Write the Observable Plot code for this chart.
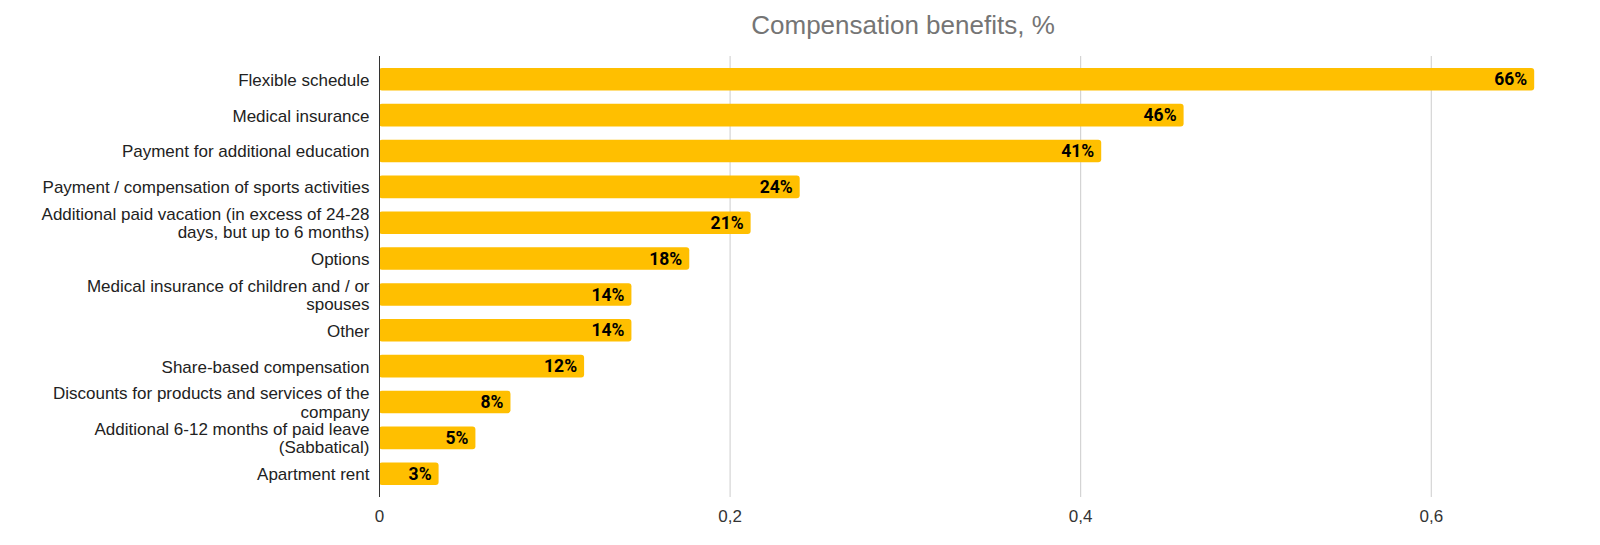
<!DOCTYPE html>
<html>
<head>
<meta charset="utf-8">
<script src="https://cdn.jsdelivr.net/npm/d3@7"></script>
<script src="https://cdn.jsdelivr.net/npm/@observablehq/plot@0.6"></script>
<style>
  html, body { margin: 0; padding: 0; background: #fff; }
  #wrap { position: relative; width: 1600px; height: 545px; }
  #title { position: absolute; top: 0; left: 903px; transform: translateX(-50%); white-space: nowrap;
    font-family: "Liberation Sans", Arial, sans-serif; font-size: 26px; color: #757575;
    line-height: 40px; padding-top: 5px; }
  #chart { position: absolute; top: 45px; left: 0; }
  #chart svg { display: block; }
</style>
</head>
<body>
<div id="wrap">
  <div id="title">Compensation benefits, %</div>
  <div id="chart"></div>
</div>
<script>
const categories = [
  "Flexible schedule",
  "Medical insurance",
  "Payment for additional education",
  "Payment / compensation of sports activities",
  "Additional paid vacation (in excess of 24-28 days, but up to 6 months)",
  "Options",
  "Medical insurance of children and / or spouses",
  "Other",
  "Share-based compensation",
  "Discounts for products and services of the company",
  "Additional 6-12 months of paid leave (Sabbatical)",
  "Apartment rent"
];
const categoryLabels = [
  "Flexible schedule",
  "Medical insurance",
  "Payment for additional education",
  "Payment / compensation of sports activities",
  "Additional paid vacation (in excess of 24-28\ndays, but up to 6 months)",
  "Options",
  "Medical insurance of children and / or\nspouses",
  "Other",
  "Share-based compensation",
  "Discounts for products and services of the\ncompany",
  "Additional 6-12 months of paid leave\n(Sabbatical)",
  "Apartment rent"
];
const values = [0.659, 0.459, 0.412, 0.240, 0.212, 0.177, 0.144, 0.144, 0.117, 0.075, 0.055, 0.034];
const valueLabels = ["66%", "46%", "41%", "24%", "21%", "18%", "14%", "14%", "12%", "8%", "5%", "3%"];
const xTicks = [0, 0.2, 0.4, 0.6];
const xTickLabels = ["0", "0,2", "0,4", "0,6"];

const data = categories.map((c, i) => ({category: c, value: values[i], label: valueLabels[i]}));

const chart = Plot.plot({
  width: 1600,
  height: 500,
  marginLeft: 379,
  marginRight: 29,
  marginTop: 11,
  marginBottom: 48,
  style: {fontFamily: "'Liberation Sans', Arial, sans-serif", fontSize: "17px", background: "#fff"},
  x: {domain: [0, 0.68], round: false},
  y: {domain: categories, paddingInner: 0.37, paddingOuter: 0.335, round: false},
  marks: [
    Plot.gridX(xTicks.slice(1), {stroke: "#cccccc", strokeOpacity: 1, strokeWidth: 1}),
    Plot.barX(data, {x: "value", y: "category", fill: "#ffbf00", rx: 3}),
    Plot.ruleX([0], {stroke: "#333333", strokeWidth: 1}),
    Plot.text(data, {x: "value", y: "category", text: "label", textAnchor: "end", dx: -7.5,
      fill: "#000", fontFamily: "Roboto, sans-serif", fontWeight: "bold", fontSize: 17.5}),
    Plot.axisY({tickSize: 0, tickPadding: 10, label: null, fill: "#222",
      lineHeight: 1.08,
      tickFormat: (d) => categoryLabels[categories.indexOf(d)]}),
    Plot.axisX(xTicks, {tickSize: 0, tickPadding: 12, label: null, fill: "#333",
      tickFormat: (d) => xTickLabels[xTicks.indexOf(d)]})
  ]
});
document.getElementById("chart").appendChild(chart);
</script>
</body>
</html>
